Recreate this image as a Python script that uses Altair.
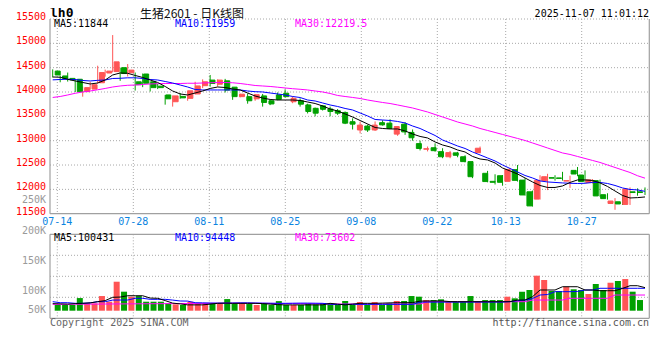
import altair as alt
import pandas as pd

# ---------------- data ----------------
dates = ["07-11", "07-14", "07-15", "07-16", "07-17", "07-18", "07-21", "07-22", "07-23", "07-24",
         "07-25", "07-28", "07-29", "07-30", "07-31", "08-01", "08-04", "08-05", "08-06", "08-07",
         "08-08", "08-11", "08-12", "08-13", "08-14", "08-15", "08-18", "08-19", "08-20", "08-21",
         "08-22", "08-25", "08-26", "08-27", "08-28", "08-29", "09-01", "09-02", "09-03", "09-04",
         "09-05", "09-08", "09-09", "09-10", "09-11", "09-12", "09-15", "09-16", "09-17", "09-18",
         "09-19", "09-22", "09-23", "09-24", "09-25", "09-26", "09-29", "09-30", "10-09", "10-10",
         "10-13", "10-14", "10-15", "10-16", "10-17", "10-20", "10-21", "10-22", "10-23", "10-24",
         "10-27", "10-28", "10-29", "10-30", "10-31", "11-03", "11-04", "11-05", "11-06", "11-07"]

opens = [14430, 14330, 14280, 14262, 14007, 14060, 14190, 14390, 14420, 14500,
         14395, 14210, 14370, 14210, 14120, 13940, 13800, 13910, 13870, 13960,
         14130, 14245, 14160, 14230, 14100, 13905, 13905, 13860, 13920, 13820,
         13940, 13975, 13800, 13820, 13735, 13665, 13715, 13650, 13615, 13580,
         13390, 13220, 13300, 13220, 13370, 13360, 13135, 13340, 13170, 12940,
         12825, 12855, 12775, 12670, 12750, 12670, 12570, 12755, 12330, 12165,
         12280, 12165, 12405, 12190, 11950, 11800, 12180, 12240, 12235, 12170,
         12390, 12295, 12140, 12180, 11890, 11710, 11745, 11690, 11950, 11950]
closes = [14350, 14280, 14250, 14007, 14090, 14150, 14400, 14430, 14620, 14380,
          14450, 14150, 14180, 14090, 14090, 13860, 13920, 13880, 14025, 14125,
          14210, 14175, 14245, 14040, 13905, 13955, 13820, 13945, 13785, 13755,
          13850, 13905, 13870, 13750, 13600, 13565, 13645, 13600, 13565, 13360,
          13340, 13320, 13220, 13320, 13325, 13250, 13290, 13180, 13060, 12840,
          12835, 12795, 12670, 12755, 12700, 12570, 12260, 12845, 12160, 12145,
          12145, 12410, 12185, 11885, 11660, 12185, 12260, 12230, 12225, 12180,
          12315, 12160, 12195, 11865, 11810, 11760, 11700, 12005, 11935, 11935]
highs = [14465, 14340, 14400, 14270, 14110, 14210, 14540, 14460, 15170, 14500,
         14575, 14400, 14380, 14220, 14170, 13940, 13930, 13980, 14030, 14210,
         14260, 14350, 14260, 14270, 14100, 13965, 13970, 13960, 13960, 13840,
         13990, 14055, 13910, 13870, 13760, 13680, 13730, 13700, 13650, 13600,
         13460, 13390, 13330, 13395, 13420, 13440, 13295, 13380, 13230, 13000,
         12880, 12945, 12845, 12790, 12770, 12700, 12575, 12880, 12380, 12310,
         12295, 12440, 12500, 12230, 11975, 12290, 12320, 12290, 12360, 12280,
         12460, 12390, 12210, 12200, 11920, 11820, 11885, 12040, 12020, 12040]
lows = [14300, 14200, 14215, 14000, 13904, 14050, 14170, 14315, 14410, 14230,
        14320, 14030, 14100, 14010, 14060, 13740, 13700, 13860, 13820, 13950,
        14080, 14110, 14110, 13990, 13840, 13890, 13760, 13820, 13700, 13730,
        13830, 13890, 13770, 13700, 13560, 13500, 13620, 13500, 13530, 13340,
        13230, 13150, 13180, 13200, 13310, 13240, 13100, 13120, 13000, 12800,
        12780, 12775, 12640, 12640, 12660, 12555, 12230, 12740, 12145, 12100,
        12075, 12160, 12160, 11870, 11645, 11790, 11985, 12180, 12180, 12030,
        12270, 12140, 12120, 11850, 11790, 11580, 11680, 11680, 11870, 11885]

ma5 = [14309, 14303, 14262, 14227, 14196, 14165, 14185, 14247, 14350, 14391,
       14385, 14340, 14299, 14247, 14196, 14114, 14021, 13960, 13939, 13980,
       14021, 14073, 14103, 14093, 14062, 14042, 13980, 13918, 13877, 13847,
       13836, 13836, 13836, 13826, 13795, 13764, 13713, 13651, 13610, 13549,
       13487, 13415, 13343, 13271, 13251, 13241, 13241, 13200, 13138, 13087,
       13056, 12974, 12912, 12871, 12809, 12768, 12676, 12624, 12604, 12542,
       12439, 12378, 12316, 12234, 12152, 12080, 12039, 12039, 12070, 12142,
       12193, 12193, 12183, 12132, 12060, 11967, 11875, 11823, 11830, 11844]
ma10 = [14250, 14257, 14262, 14257, 14237, 14227, 14240, 14247, 14278, 14282,
        14292, 14292, 14278, 14257, 14247, 14216, 14185, 14144, 14103, 14052,
        14042, 14042, 14042, 14042, 14042, 14042, 14021, 14007, 14001, 13980,
        13960, 13939, 13908, 13887, 13836, 13816, 13775, 13734, 13703, 13662,
        13631, 13569, 13508, 13436, 13425, 13415, 13395, 13364, 13302, 13251,
        13179, 13107, 13015, 12953, 12891, 12840, 12768, 12707, 12645, 12583,
        12501, 12429, 12357, 12285, 12234, 12173, 12152, 12142, 12132, 12125,
        12121, 12125, 12142, 12142, 12121, 12080, 12029, 11998, 11988, 11960]
ma30 = [13888, 13908, 13939, 13974, 14001, 14021, 14046, 14073, 14103, 14124,
        14138, 14144, 14155, 14165, 14171, 14175, 14175, 14175, 14180, 14180,
        14185, 14190, 14195, 14195, 14190, 14175, 14155, 14134, 14124, 14114,
        14099, 14083, 14068, 14056, 14042, 14021, 14001, 13970, 13929, 13908,
        13888, 13867, 13836, 13810, 13785, 13764, 13734, 13703, 13672, 13631,
        13590, 13538, 13487, 13436, 13384, 13343, 13302, 13251, 13210, 13169,
        13128, 13087, 13046, 13004, 12953, 12902, 12850, 12799, 12748, 12717,
        12676, 12635, 12594, 12553, 12501, 12450, 12398, 12347, 12280, 12230]

vols = [59300, 59300, 59300, 73000, 62600, 62600, 77000, 65800, 105300, 85600,
        75700, 77000, 65800, 65800, 65800, 62600, 60600, 59300, 65800, 62600,
        63200, 63200, 62600, 71000, 62600, 62600, 61200, 59300, 63200, 59300,
        67000, 59300, 59300, 59300, 62600, 60600, 63200, 61200, 59300, 67200,
        59300, 65200, 59300, 65200, 59300, 62600, 67200, 67200, 77000, 75700,
        69100, 69100, 70500, 65800, 65800, 65800, 77000, 65800, 69100, 69100,
        69100, 75700, 72500, 85600, 88900, 117200, 108700, 86900, 86900, 95400,
        90300, 88900, 81000, 100800, 88900, 103300, 106700, 110600, 85600, 69100]
vma5 = [62000, 61500, 61000, 62000, 62600, 63500, 65800, 68000, 74500, 75000,
        77600, 77600, 77600, 73000, 72500, 68000, 63000, 61500, 59500, 59500,
        59500, 61000, 62600, 63000, 62600, 62600, 62600, 62600, 62000, 61000,
        60000, 59500, 59500, 59500, 59500, 59500, 59500, 62600, 61000, 59500,
        61000, 62600, 62600, 62600, 63000, 63500, 63800, 63800, 64000, 67000,
        67200, 67200, 67200, 66000, 65800, 65800, 65800, 65800, 65800, 65800,
        65800, 65800, 69100, 69100, 75700, 88900, 88900, 88900, 95400, 95400,
        95400, 88900, 88900, 87500, 87500, 87500, 92000, 97400, 97400, 93600]
vma10 = [65800, 63800, 63800, 62600, 62600, 63500, 65800, 65800, 69000, 69100,
         69100, 72500, 72500, 70500, 70500, 70500, 69000, 67200, 67000, 63800,
         63500, 63200, 63000, 63000, 63200, 63500, 63500, 63200, 63000, 62800,
         62600, 62600, 62800, 63000, 63000, 62800, 62600, 61000, 60000, 60600,
         60600, 60600, 60600, 60600, 60600, 60600, 60600, 60600, 60600, 65000,
         65000, 65000, 65000, 65000, 65000, 65000, 65000, 65000, 65000, 65000,
         65000, 66000, 67800, 69000, 72000, 79000, 80000, 85600, 85600, 85600,
         86000, 88900, 88900, 92300, 92300, 92300, 92300, 92300, 92300, 92300]
vma30 = [60600, 60600, 60700, 60800, 60900, 61000, 61100, 61200, 61300, 61400,
         61500, 61600, 61700, 61800, 61900, 62000, 62100, 62200, 62300, 62400,
         62500, 62600, 62700, 62800, 62800, 62800, 62700, 62600, 62500, 62400,
         62300, 62200, 62100, 62000, 61900, 61800, 61600, 61200, 61200, 61200,
         61200, 61200, 61200, 61200, 61200, 61200, 61200, 61200, 61200, 61200,
         65800, 65800, 65800, 65800, 65800, 65800, 65800, 65800, 65800, 65800,
         65800, 65800, 65800, 65800, 69100, 69100, 69100, 69100, 69100, 72500,
         72500, 72500, 72500, 72500, 72500, 79000, 79000, 79000, 79000, 79000]

price_ticks = [15500, 15000, 14500, 14000, 13500, 13000, 12500, 12000, 11500]
vol_tick_values = [250000, 200000, 150000, 100000, 50000]
vol_tick_labels = ["250K", "200K", "150K", "100K", "50K"]
grid_dates = ["07-14", "07-28", "08-11", "08-25", "09-08", "09-22", "10-13", "10-27"]

title_code = "lh0"
title_name = "生猪2601 - 日K线图"
timestamp = "2025-11-07 11:01:12"
ma_price_labels = ["MA5:11844", "MA10:11959", "MA30:12219.5"]
ma_vol_labels = ["MA5:100431", "MA10:94448", "MA30:73602"]
footer_left = "Copyright 2025 SINA.COM"
footer_right = "http://finance.sina.com.cn"

# ---------------- layout / style ----------------
W, H = 644, 344
PL, PR = 42.0, 641.3           # panel left / right
PT, PB = 11.0, 205.7           # price panel top / bottom
VT, VB = 226.3, 310.3          # volume panel top / bottom
RED, GREEN = "#ff5555", "#00a000"
GRID = "#a8a8a8"
BORDER = "#a0a0a0"
MONO = "DejaVu Sans Mono"
VOL_BASE = 48000

n = len(dates)
xs = alt.Scale(domain=[0, n - 1], range=[44.7, 637.0], nice=False, zero=False)
gxs = alt.Scale(domain=[0, n - 1], range=[41.7, 642.1], nice=False, zero=False)
ps = alt.Scale(domain=[11500, 15500], range=[PB, PT], nice=False, zero=False)
vs = alt.Scale(domain=[33000, 199000], range=[VB, VT], nice=False, zero=False)
vls = alt.Scale(domain=[68600, 250000], range=[302.0, 192.25], nice=False, zero=False, clamp=True)

df = pd.DataFrame({
    "i": list(range(n)), "date": dates, "open": opens, "close": closes,
    "high": highs, "low": lows, "vol": vols,
    "ma5": ma5, "ma10": ma10, "ma30": ma30,
    "vma5": vma5, "vma10": vma10, "vma30": vma30,
})
df["dir"] = ["up" if c > o else "down" for o, c in zip(opens, closes)]

cscale = alt.Scale(domain=["up", "down"], range=[RED, GREEN])
X = alt.X("i:Q", scale=xs, axis=None)

grid_df = pd.DataFrame({"gi": [dates.index(d) for d in grid_dates], "label": grid_dates})
one = pd.DataFrame({"a": [0]})

layers = []

# horizontal price gridlines
layers.append(alt.Chart(pd.DataFrame({"p": price_ticks[:-1]})).mark_rule(
    color=GRID, strokeDash=[1, 2], strokeWidth=1).encode(
    y=alt.Y("p:Q", scale=ps, axis=None), x=alt.value(PL), x2=alt.value(PR)))

# vertical gridlines (price + volume)
for top, bot in [(PT, PB), (VT, VB)]:
    layers.append(alt.Chart(grid_df).mark_rule(color=GRID, strokeDash=[1, 2], strokeWidth=1).encode(
        x=alt.X("gi:Q", scale=gxs, axis=None), y=alt.value(top), y2=alt.value(bot)))

# volume horizontal gridlines at quarters of the panel
vlo, vhi = 33000, 199000
layers.append(alt.Chart(pd.DataFrame({"v": [vlo + k * (vhi - vlo) / 4 for k in (1, 2, 3)]})).mark_rule(
    color=GRID, strokeDash=[1, 2], strokeWidth=1).encode(
    y=alt.Y("v:Q", scale=vs, axis=None), x=alt.value(PL), x2=alt.value(PR)))

# borders
def vline(x, y1, y2):
    return alt.Chart(one).mark_rule(color=BORDER, strokeWidth=1.2).encode(
        x=alt.value(x), y=alt.value(y1), y2=alt.value(y2))

def hline(y, x1, x2):
    return alt.Chart(one).mark_rule(color=BORDER, strokeWidth=1.2).encode(
        y=alt.value(y), x=alt.value(x1), x2=alt.value(x2))

layers += [vline(PL, PT, PB), vline(PR, PT, PB), hline(PB, PL, PR),
           vline(PL, VT, VB), vline(PR, VT, VB), hline(VT, PL, PR), hline(VB, PL, PR)]

# volume bars
layers.append(alt.Chart(df).mark_bar(size=6).encode(
    x=X, y=alt.Y("vol:Q", scale=vs, axis=None), y2=alt.datum(VOL_BASE),
    color=alt.Color("dir:N", scale=cscale, legend=None)))

# volume MAs
for f, col in [("vma30", "#ff00ff"), ("vma10", "#0000ff"), ("vma5", "#000000")]:
    layers.append(alt.Chart(df).mark_line(color=col, strokeWidth=1).encode(
        x=X, y=alt.Y(f + ":Q", scale=vs, axis=None)))

# candle wicks and bodies
layers.append(alt.Chart(df).mark_rule(strokeWidth=1).encode(
    x=X, y=alt.Y("low:Q", scale=ps, axis=None), y2="high:Q",
    color=alt.Color("dir:N", scale=cscale, legend=None)))
layers.append(alt.Chart(df).mark_bar(size=5, strokeWidth=1).encode(
    x=X, y=alt.Y("open:Q", scale=ps, axis=None), y2="close:Q",
    color=alt.Color("dir:N", scale=cscale, legend=None),
    stroke=alt.Color("dir:N", scale=cscale, legend=None)))

# price MAs
for f, col in [("ma30", "#ff00ff"), ("ma10", "#0000ff"), ("ma5", "#000000")]:
    layers.append(alt.Chart(df).mark_line(color=col, strokeWidth=1).encode(
        x=X, y=alt.Y(f + ":Q", scale=ps, axis=None)))

# axis labels
layers.append(alt.Chart(pd.DataFrame({"p": price_ticks, "t": [str(p) for p in price_ticks]})).mark_text(
    align="right", baseline="middle", dy=-2, font=MONO, fontSize=10, color="#ff0000").encode(
    y=alt.Y("p:Q", scale=ps, axis=None), x=alt.value(38), text="t:N"))
layers.append(alt.Chart(pd.DataFrame({"v": vol_tick_values, "t": vol_tick_labels})).mark_text(
    align="right", baseline="middle", font=MONO, fontSize=10, color="#9a9a9a").encode(
    y=alt.Y("v:Q", scale=vls, axis=None), x=alt.value(38), text="t:N"))
layers.append(alt.Chart(grid_df).mark_text(
    align="center", baseline="middle", font=MONO, fontSize=10, color="#0a84e0").encode(
    x=alt.X("gi:Q", scale=gxs, axis=None), y=alt.value(213.7), text="label:N"))


def txt(s, x, y, color, size=10, align="left", font=MONO, weight="normal", baseline="middle"):
    return alt.Chart(pd.DataFrame({"t": [s]})).mark_text(
        align=align, baseline=baseline, color=color, fontSize=size, font=font, fontWeight=weight).encode(
        x=alt.value(x), y=alt.value(y), text="t:N")


ma_cols = ["#000000", "#0000ff", "#ff00ff"]
ma_xs = [46, 167, 287]
for s, c, x in zip(ma_price_labels, ma_cols, ma_xs):
    layers.append(txt(s, x, 16.2, c))
for s, c, x in zip(ma_vol_labels, ma_cols, ma_xs):
    layers.append(txt(s, x, 230.3, c))

layers.append(txt(title_code, 42, 9.0, "#000000", size=13, weight="bold", baseline="alphabetic"))
layers.append(txt(title_name, 132, 9.5, "#111111", size=12, font="Noto Sans CJK SC", baseline="alphabetic"))
layers.append(txt(timestamp, 641, 8.8, "#000000", size=10, align="right", baseline="alphabetic"))
layers.append(txt(footer_left, 42, 315.3, "#666666"))
layers.append(txt(footer_right, 641, 315.3, "#555555", align="right"))

chart = alt.layer(*layers).resolve_scale(x="independent", y="independent").properties(
    width=W, height=H, padding=0, autosize=alt.AutoSizeParams(type="none"),
    background="#ffffff").configure_view(stroke=None)

chart.save("out.html", embed_options={"renderer": "svg", "actions": False})
